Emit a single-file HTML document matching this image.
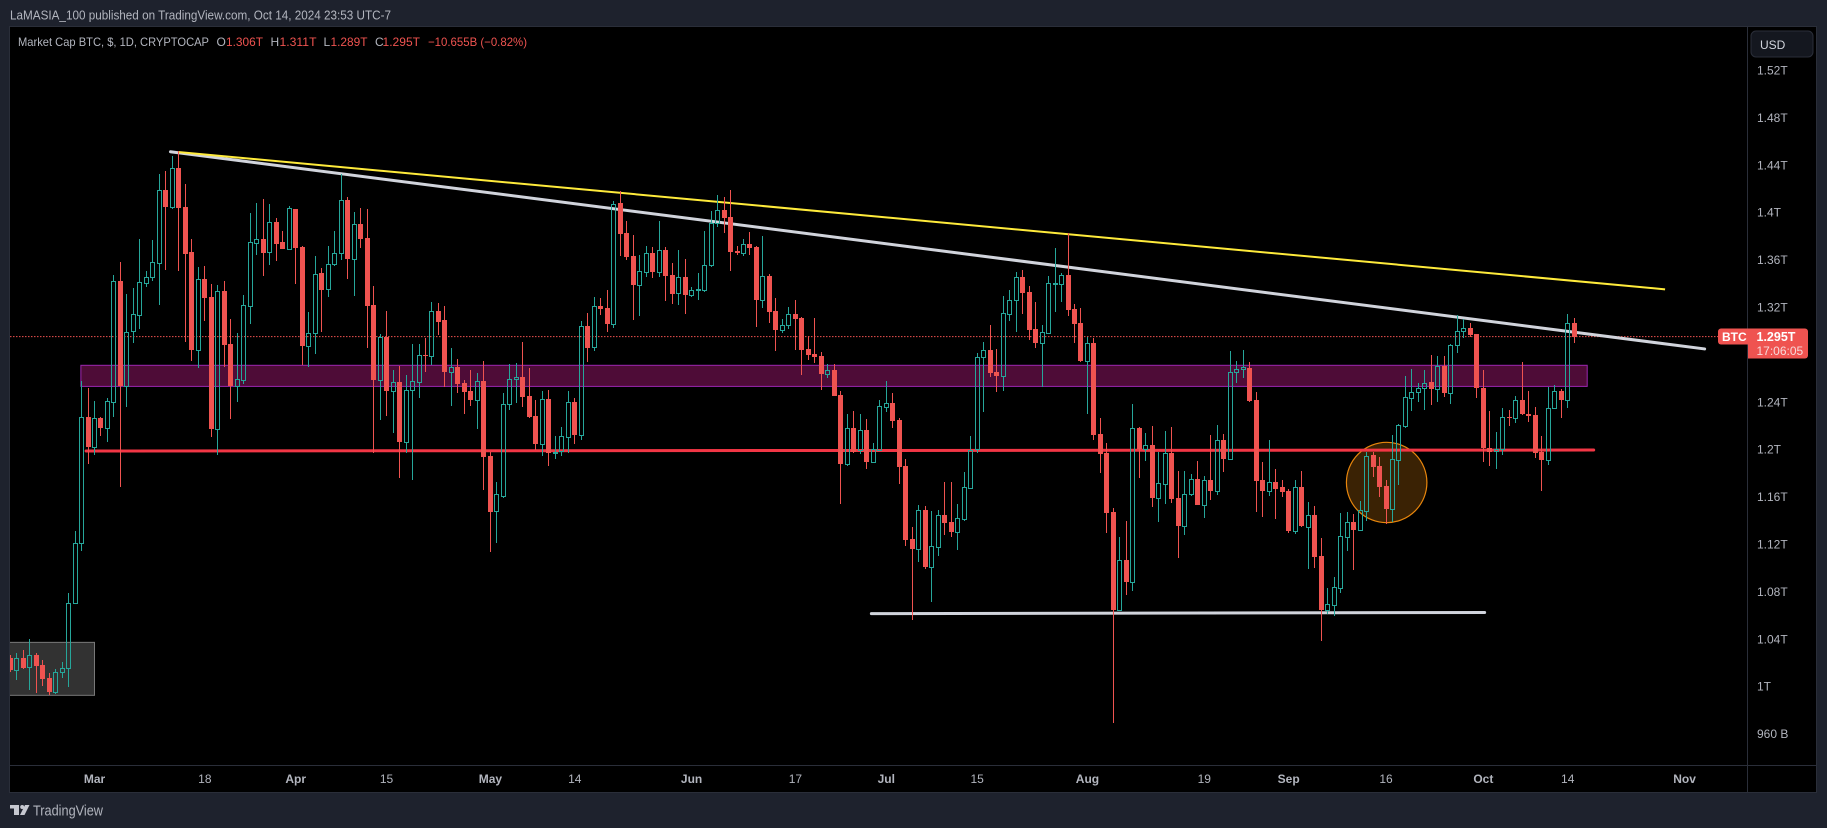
<!DOCTYPE html>
<html lang="en">
<head>
<meta charset="utf-8">
<title>Market Cap BTC chart</title>
<style>
html,body{margin:0;padding:0;background:#1e222d;width:1827px;height:828px;overflow:hidden}
svg{display:block}
text{font-family:"Liberation Sans",sans-serif}
</style>
</head>
<body>
<svg id="root" xmlns="http://www.w3.org/2000/svg" width="1827" height="828" viewBox="0 0 1827 828">
  <defs>
    <clipPath id="plot-clip"><rect x="10" y="27" width="1738" height="739"/></clipPath>
  </defs>
  <rect x="0" y="0" width="1827" height="828" fill="#1e222d"/>
  <text x="10" y="19.5" font-size="13" fill="#b2b5be" textLength="381" lengthAdjust="spacingAndGlyphs">LaMASIA_100 published on TradingView.com, Oct 14, 2024 23:53 UTC-7</text>

  <rect x="9.5" y="26.5" width="1807" height="766" fill="#000" stroke="#2a2e39"/>
  <line x1="1747.5" y1="27" x2="1747.5" y2="792" stroke="#2a2e39"/>
  <line x1="10" y1="765.5" x2="1816" y2="765.5" stroke="#2a2e39"/>

  <g id="drawings" clip-path="url(#plot-clip)"></g>
  <g id="candles" clip-path="url(#plot-clip)"></g>
  <g id="y-axis"></g>
  <g id="x-axis"></g>

  <g font-size="12">
    <text x="18" y="46" fill="#b2b5be" textLength="191" lengthAdjust="spacingAndGlyphs">Market Cap BTC, $, 1D, CRYPTOCAP</text>
    <text x="216.5" y="46" fill="#b2b5be">O</text>
    <text x="226" y="46" fill="#ef5350" textLength="37" lengthAdjust="spacingAndGlyphs">1.306T</text>
    <text x="270.5" y="46" fill="#b2b5be">H</text>
    <text x="279.5" y="46" fill="#ef5350" textLength="37" lengthAdjust="spacingAndGlyphs">1.311T</text>
    <text x="323.5" y="46" fill="#b2b5be">L</text>
    <text x="330.5" y="46" fill="#ef5350" textLength="37" lengthAdjust="spacingAndGlyphs">1.289T</text>
    <text x="375" y="46" fill="#b2b5be">C</text>
    <text x="382.5" y="46" fill="#ef5350" textLength="37.5" lengthAdjust="spacingAndGlyphs">1.295T</text>
    <text x="428" y="46" fill="#ef5350" textLength="99" lengthAdjust="spacingAndGlyphs">−10.655B (−0.82%)</text>
  </g>

  <g>
    <rect x="1751" y="31" width="62" height="26" rx="5" fill="#14171f" stroke="#2a2e39"/>
    <text x="1760" y="49" font-size="12" fill="#d1d4dc">USD</text>
  </g>

  <g>
    <path d="M1721 328.5H1748V344.5H1721a3 3 0 0 1-3-3V331.500a3 3 0 0 1 3-3Z" fill="#ef5350"/>
    <text x="1722" y="341" font-size="12" font-weight="700" fill="#fff">BTC</text>
    <path d="M1748 328.500H1805a3 3 0 0 1 3 3V355.500a3 3 0 0 1-3 3H1748Z" fill="#ef5350"/>
    <text x="1756.500" y="341" font-size="12.500" font-weight="700" fill="#fff">1.295T</text>
    <text x="1756.500" y="355" font-size="12" fill="#f6dada">17:06:05</text>
  </g>

  <g>
    <g fill="#c6c8d0">
      <rect x="10" y="805" width="9" height="3.500"/>
      <rect x="14" y="805" width="5" height="10"/>
      <circle cx="22.200" cy="807" r="2"/>
      <polygon points="25,805 29.500,805 24.500,815 20,815"/>
    </g>
    <text x="33" y="815.500" font-size="15" fill="#b2b5be" textLength="70" lengthAdjust="spacingAndGlyphs">TradingView</text>
  </g>
</svg>

<script>
// Daily bars, values in billions of USD. First bar is 13 days before the "Mar" tick.
const firstBarDay = -13;
const opens = [
1023.8,1013.7,1023.8,1016.5,1026.3,1017.9,1006.9,995.4,1012.3,1015.1,
1069.9,1120.6,1226.9,1202.1,1226,1218.2,1240.1,1341.7,1253.3,1299.8,
1313.3,1340.5,1345.6,1357.4,1418.7,1404.7,1437.3,1404.4,1366.4,1284,
1343.6,1328.4,1217.3,1333.5,1288.8,1253.3,1258.4,1321.1,1374.3,1377.4,
1366.1,1391.7,1374.6,1369.2,1402.4,1370.4,1287.4,1297.8,1348.7,1334.9,
1356,1365.3,1410.3,1360.7,1390,1378.2,1321.6,1258.6,1294.6,1249.3,
1256.7,1206.3,1249.7,1257,1279.2,1279,1316.6,1309,1265.4,1269.4,
1255.9,1248.8,1241.8,1257.3,1194.3,1148.1,1160.8,1238.4,1259,1260.6,
1244.6,1227.7,1204.7,1242.1,1197.5,1198.2,1210.6,1239.5,1212.2,1303.7,
1285.9,1320.8,1319.1,1306,1407.8,1382.5,1363.1,1338.6,1349.6,1365.6,
1349.6,1368.1,1347,1331.8,1345.3,1330.2,1334.6,1334.7,1355.8,1390.6,
1401.9,1396,1367.3,1365.6,1373.2,1370.7,1325.9,1346.2,1316.7,1300.9,
1304.8,1314.1,1310.7,1284.6,1280.4,1278.7,1263.8,1266.9,1245.8,1187.5,
1217.6,1199.3,1216,1189.2,1199.6,1235.6,1238.7,1224.7,1185.8,1124.2,
1115.7,1148.6,1100.5,1117.7,1144.4,1138.5,1130.4,1141.3,1167.5,1200,
1277.5,1283.5,1265.2,1262,1314.4,1325.7,1345.3,1332.7,1301.5,1289.9,
1298.4,1339.8,1339.7,1347,1318.3,1306.5,1274.7,1289.6,1212.9,1196.8,
1147,1064.3,1106.5,1088.2,1217.6,1200.4,1203.2,1158.8,1170.9,1196.8,
1158.8,1135.1,1162.2,1174.8,1152.9,1174,1164.7,1207.7,1192,1264.9,
1267.4,1268.3,1241.3,1174,1165,1172.3,1168.1,1164.7,1130.9,1168,
1134.6,1144.4,1109.8,1064.3,1068.8,1083.1,1126.1,1138.5,1132,1148.1,
1195.1,1185.8,1169,1149.8,1190.9,1219.9,1243.5,1248.6,1251.4,1256.4,
1251.1,1270.2,1247.7,1287.7,1300,1302,1297.2,1251.4,1201.3,1198.2,
1200.2,1227.2,1226.3,1241.3,1229.7,1228.9,1197.9,1190.9,1234.8,1248.8,
1241.8,1306.2
];
const highs = [
1026,1027.7,1030.6,1039.6,1027.7,1022.1,1010.9,1014.2,1020.1,1078.4,
1130.9,1257.5,1251.6,1240.7,1227.5,1242.9,1347,1358,1331,1335.8,
1377.4,1350.4,1376.5,1432.2,1434.8,1447.4,1451.7,1423.8,1377.4,1353.8,
1354.6,1339.1,1338.6,1341.9,1309.9,1298,1330.1,1399,1407.5,1410.9,
1406.6,1394.8,1384.1,1405.2,1403,1371.5,1315.5,1363,1352.9,1371.5,
1384.1,1432.2,1413.1,1400.1,1403.5,1402.4,1337.7,1297.2,1316.6,1266.8,
1270.5,1262.6,1288.8,1288.8,1293.8,1324.2,1323.1,1320.8,1285.4,1276.1,
1258.4,1266.8,1264,1274.4,1197.9,1172.3,1247.4,1271.6,1272.7,1290.5,
1268.5,1241.5,1248.8,1249.9,1211.1,1218.7,1248.8,1243.2,1307.9,1314.6,
1328.4,1327.5,1334.3,1409.5,1417.9,1392.6,1380.8,1363.9,1371.5,1370.7,
1392.6,1370.7,1357.2,1368.1,1360.5,1336.6,1348.7,1384.2,1400.8,1414.6,
1412.9,1418.8,1371.5,1377.4,1383.3,1371.5,1380,1347.9,1327.6,1309.9,
1320,1325.9,1311.6,1295.6,1310.7,1282,1271.9,1271.9,1249.1,1229.7,
1232.3,1229.7,1225.5,1205.2,1241.5,1257.6,1247.2,1226.3,1191.7,1134.3,
1152.9,1152,1147.8,1148.6,1172.3,1172.3,1153.7,1180.7,1211.1,1281.2,
1290.2,1304.8,1284.6,1329,1334.4,1349.6,1351.3,1337.7,1324.2,1304.8,
1346.2,1369.5,1348.7,1382.2,1322.6,1319.2,1295,1293.9,1226.3,1205.2,
1150.3,1125.9,1139.4,1238.2,1218.7,1213.6,1219.5,1197.6,1215.3,1218.7,
1181.6,1181.6,1178.7,1190,1177.3,1212,1220.4,1212.8,1282.9,1274.4,
1283.7,1273.6,1248,1189.2,1207.8,1183.3,1174,1166.4,1174,1181.6,
1155.4,1152,1125,1082.8,1092.1,1146.1,1147,1145.3,1156.2,1197.9,
1197.7,1193.7,1174,1211.7,1221.3,1261.8,1267.4,1255.6,1267,1279.5,
1278.7,1279,1289,1313.3,1309.6,1306.8,1297.3,1266.8,1232.2,1214.5,
1234.8,1233.1,1244.9,1273.6,1249.1,1235.9,1211.2,1252.8,1253.9,1250.8,
1314.1,1310.7
];
const lows = [
1012,1005.2,1014.2,996.8,994.5,1000.2,992.6,993.4,1007.2,999.6,
1069.9,1114.1,1187.5,1195.1,1211.1,1206.1,1227.5,1168.1,1235.9,1289.9,
1301.4,1337.2,1341.9,1321.7,1351.2,1402.7,1350.7,1290.8,1274.7,1268.8,
1308.2,1210.6,1195.4,1269.6,1225.5,1240.1,1255,1305.7,1363.9,1346.4,
1355.5,1358.8,1369.2,1369,1339.4,1271.1,1269.6,1280.3,1298.9,1328.4,
1355,1359.7,1343.6,1329.2,1369.7,1285.3,1197,1224.6,1228,1213.6,
1176,1197.1,1174,1243.5,1265.1,1270.8,1296.4,1252.8,1236.4,1247.4,
1229.7,1236.4,1217,1165.6,1113.5,1121.1,1158.8,1233.1,1239.3,1235.9,
1226.3,1199.3,1194.5,1186.1,1192,1194.2,1197.1,1204.4,1207.8,1273.6,
1282.8,1313.2,1298.8,1302.3,1363.1,1359.7,1309.1,1312.4,1345.6,1344.5,
1345.3,1325.1,1322.6,1321.7,1314.1,1328.5,1326,1332.7,1354,1387.5,
1382.5,1350.4,1363.9,1363.1,1363.9,1303.1,1319.2,1306.5,1282.9,1298.1,
1301.5,1283.7,1262.6,1275.3,1272.8,1250,1260.1,1244.9,1153.8,1186,
1196.5,1195.7,1183.3,1189,1199,1231.4,1217.9,1170.6,1118.3,1055.8,
1104.8,1098.9,1071,1109.8,1127.6,1125.9,1114.9,1139.4,1166,1197.1,
1231.7,1261.2,1248.3,1249.1,1308.2,1298.9,1314.1,1292.2,1285.4,1252.8,
1297.8,1315.8,1324.2,1312.4,1289.6,1273.6,1229.7,1207.8,1179.6,1129.5,
969,1064,1076.9,1080.3,1175.7,1190,1151.2,1138.5,1153.7,1154.6,
1108.1,1127.5,1160.5,1152.9,1141.9,1157.1,1161.3,1180.7,1191,1256.2,
1260.1,1240,1147,1142.8,1160.5,1141.1,1159.7,1129.2,1128.4,1134.3,
1098.9,1099.7,1038.1,1060.9,1059.5,1078.6,1114,1098,1131.8,1139.2,
1176.8,1160,1136.9,1138.9,1169.8,1217.6,1232.2,1240.1,1233.1,1237.3,
1239.8,1244.3,1238.4,1281.2,1293.6,1294.4,1243.2,1189.5,1185.8,1183.3,
1195.1,1219.6,1221.8,1228.9,1223,1192.3,1164.7,1187,1234.5,1226.3,
1234.8,1289.9
];
const closes = [
1013.7,1023.5,1015.1,1026,1017,1006.1,995.1,1011.7,1015.1,1069.9,
1120.6,1226.9,1202.1,1226,1218.2,1240.4,1341.7,1253.3,1299.2,1313.8,
1340.8,1345,1357.7,1418.5,1404.4,1437,1403.8,1364.7,1283.7,1343.4,
1327.9,1217.3,1333.2,1287.9,1253.3,1259,1321.4,1374.6,1377.1,1365.9,
1391.5,1373.5,1369.2,1403.3,1370.1,1287.4,1297.8,1347.6,1334.6,1356,
1365.3,1410,1360.8,1389.7,1377.3,1320.8,1258.3,1294.3,1249,1256.4,
1206.3,1249.7,1257.2,1279.2,1279,1316.3,1307.3,1265.1,1269.1,1255.3,
1248.3,1241.5,1257.3,1193.7,1147,1161.9,1237.9,1259,1260.6,1244,
1227.4,1204.7,1242.1,1197.1,1197.9,1210.8,1239.5,1212.2,1303.7,1285.7,
1320.5,1318.3,1305.9,1406.7,1381.6,1362.2,1338.6,1350.1,1365.3,1349.6,
1367.8,1346.2,1331,1345.1,1330.2,1334.1,1335,1355.2,1390.6,1401.6,
1395.1,1366.4,1365.6,1372.9,1369.8,1325.9,1345.9,1315.8,1300.6,1304.6,
1313.8,1309.9,1283.7,1279.5,1277.8,1263.5,1266.6,1244.9,1187.5,1217.6,
1198,1216,1189.2,1199.9,1236.2,1238.7,1223.8,1184.9,1123.3,1115.7,
1148.6,1100.5,1118,1144.1,1137.7,1130.1,1141.6,1167.8,1199.3,1277.5,
1283.5,1264.3,1261.8,1314.7,1325.7,1345.1,1331.8,1300.6,1289.6,1298.6,
1340,1340,1346.8,1317.5,1305.7,1274.5,1289.4,1212,1196,1146.4,
1064.3,1106.2,1087.9,1217.6,1199.8,1203.2,1158.8,1171.2,1196.5,1157.9,
1135.1,1161.9,1174.5,1152.9,1173.7,1164.7,1207.4,1191.7,1264.9,1267.4,
1269.1,1241,1173.5,1165,1172,1166.7,1163.9,1130.9,1167.8,1135.1,
1144.1,1109,1064.3,1069,1083.4,1126.4,1138.2,1131.8,1148.4,1194.6,
1185.3,1168.4,1149.6,1191.5,1220.2,1243.8,1248.6,1251.4,1256.2,1251.1,
1270.2,1247.7,1287.7,1300,1302,1296.7,1251.4,1201,1197.9,1199.9,
1226.9,1226.3,1241.3,1229.7,1228,1197.1,1190.9,1234.5,1248.8,1241.5,
1306.2,1295
];

// Price axis ticks (billions) and their printed labels.
const priceTicks = [1520,1480,1440,1400,1360,1320,1240,1200,1160,1120,1080,1040,1000,960];
const priceTickLabels = ["1.52T","1.48T","1.44T","1.4T","1.36T","1.32T","1.24T","1.2T","1.16T","1.12T","1.08T","1.04T","1T","960 B"];

// Time axis ticks: days since the "Mar" tick, and their labels.
const timeTicks = [0,17,31,45,61,74,92,108,122,136,153,171,184,199,214,227,245];
const timeTickLabels = ["Mar","18","Apr","15","May","14","Jun","17","Jul","15","Aug","19","Sep","16","Oct","14","Nov"];

const lastPrice = 1295;

// Annotation anchors in chart units: [day, price in billions].
const whiteTrend = [[11.7,1451],[248.1,1284.6]];
const yellowTrend = [[12.87,1450.8],[242,1334.9]];
const resistanceLine = [[-1.3,1198.5],[231,1199.3]];
const supportLine = [[119.7,1061.2],[214.2,1062.2]];
const purpleZone = [[-2.1,1270.8],[230,1253]];
const greyRange = [[-14,1037],[0,992.3]];
const orangeCircle = [[192.9,1205.8],[205.3,1138]];

const NS = 'http://www.w3.org/2000/svg';
const xOf = function (day) { return 94.5 + 6.49 * day; };
const yOf = function (price) { return 70 + (1520 - price) * 1.185; };

const drawings = document.getElementById('drawings');
const candles = document.getElementById('candles');
const yAxis = document.getElementById('y-axis');
const xAxis = document.getElementById('x-axis');

// Price line
const priceLine = document.createElementNS(NS, 'line');


priceLine.setAttribute('x1', 10);
priceLine.setAttribute('x2', 1748);
priceLine.setAttribute('y1', yOf(lastPrice));
priceLine.setAttribute('y2', yOf(lastPrice));
priceLine.setAttribute('stroke', '#ef5350');
priceLine.setAttribute('stroke-dasharray', '1.500 1.500');
drawings.appendChild(priceLine);

// Grey range box
const greyBox = document.createElementNS(NS, 'rect');


greyBox.setAttribute('x', xOf(greyRange[0][0]));
greyBox.setAttribute('y', yOf(greyRange[0][1]));
greyBox.setAttribute('width', xOf(greyRange[1][0]) - xOf(greyRange[0][0]));
greyBox.setAttribute('height', yOf(greyRange[1][1]) - yOf(greyRange[0][1]));
greyBox.setAttribute('fill', '#323232');
greyBox.setAttribute('stroke', '#787878');
drawings.appendChild(greyBox);

// Purple zone
const zone = document.createElementNS(NS, 'rect');


zone.setAttribute('x', xOf(purpleZone[0][0]));
zone.setAttribute('y', yOf(purpleZone[0][1]));
zone.setAttribute('width', xOf(purpleZone[1][0]) - xOf(purpleZone[0][0]));
zone.setAttribute('height', yOf(purpleZone[1][1]) - yOf(purpleZone[0][1]));
zone.setAttribute('fill', '#4e0c37');
zone.setAttribute('stroke', '#9c27b0');
drawings.appendChild(zone);

// Orange circle
const circle = document.createElementNS(NS, 'ellipse');


circle.setAttribute('cx', (xOf(orangeCircle[0][0]) + xOf(orangeCircle[1][0])) / 2);
circle.setAttribute('cy', (yOf(orangeCircle[0][1]) + yOf(orangeCircle[1][1])) / 2);
circle.setAttribute('rx', (xOf(orangeCircle[1][0]) - xOf(orangeCircle[0][0])) / 2);
circle.setAttribute('ry', (yOf(orangeCircle[1][1]) - yOf(orangeCircle[0][1])) / 2);
circle.setAttribute('fill', '#3a2204');
circle.setAttribute('stroke', '#e8860c');
circle.setAttribute('stroke-width', '1.200');
drawings.appendChild(circle);

// Horizontal levels
const redLevel = document.createElementNS(NS, 'line');


redLevel.setAttribute('x1', xOf(resistanceLine[0][0]));
redLevel.setAttribute('y1', yOf(resistanceLine[0][1]));
redLevel.setAttribute('x2', xOf(resistanceLine[1][0]));
redLevel.setAttribute('y2', yOf(resistanceLine[1][1]));
redLevel.setAttribute('stroke', '#f23645');
redLevel.setAttribute('stroke-width', '3');
redLevel.setAttribute('stroke-linecap', 'round');
drawings.appendChild(redLevel);

const whiteLevel = document.createElementNS(NS, 'line');


whiteLevel.setAttribute('x1', xOf(supportLine[0][0]));
whiteLevel.setAttribute('y1', yOf(supportLine[0][1]));
whiteLevel.setAttribute('x2', xOf(supportLine[1][0]));
whiteLevel.setAttribute('y2', yOf(supportLine[1][1]));
whiteLevel.setAttribute('stroke', '#d1d4dc');
whiteLevel.setAttribute('stroke-width', '3');
whiteLevel.setAttribute('stroke-linecap', 'round');
drawings.appendChild(whiteLevel);

// Trendlines
const whiteLine = document.createElementNS(NS, 'line');


whiteLine.setAttribute('x1', xOf(whiteTrend[0][0]));
whiteLine.setAttribute('y1', yOf(whiteTrend[0][1]));
whiteLine.setAttribute('x2', xOf(whiteTrend[1][0]));
whiteLine.setAttribute('y2', yOf(whiteTrend[1][1]));
whiteLine.setAttribute('stroke', '#d1d4dc');
whiteLine.setAttribute('stroke-width', '3');
whiteLine.setAttribute('stroke-linecap', 'round');
drawings.appendChild(whiteLine);

const yellowLine = document.createElementNS(NS, 'line');


yellowLine.setAttribute('x1', xOf(yellowTrend[0][0]));
yellowLine.setAttribute('y1', yOf(yellowTrend[0][1]));
yellowLine.setAttribute('x2', xOf(yellowTrend[1][0]));
yellowLine.setAttribute('y2', yOf(yellowTrend[1][1]));
yellowLine.setAttribute('stroke', '#ffeb3b');
yellowLine.setAttribute('stroke-width', '2');
drawings.appendChild(yellowLine);

// Candles
const UP = '#26a69a';
const DOWN = '#ef5350';
for (let i = 0; i < opens.length; i++) {
  const cx = xOf(firstBarDay + i);
  const left = Math.round(cx - 2.5);
  const isUp = closes[i] >= opens[i];
  const color = isUp ? UP : DOWN;
  const top = Math.round(yOf(Math.max(opens[i], closes[i])));
  const bottom = Math.round(yOf(Math.min(opens[i], closes[i])));
  const hi = Math.round(yOf(highs[i]));
  const lo = Math.round(yOf(lows[i]));

  const g = document.createElementNS(NS, 'g');
  
  

  const wickTop = document.createElementNS(NS, 'rect');
  
  
  wickTop.setAttribute('x', left + 2);
  wickTop.setAttribute('y', hi);
  wickTop.setAttribute('width', 1);
  wickTop.setAttribute('height', Math.max(0, top - hi));
  wickTop.setAttribute('fill', color);
  g.appendChild(wickTop);

  const wickBottom = document.createElementNS(NS, 'rect');
  
  
  wickBottom.setAttribute('x', left + 2);
  wickBottom.setAttribute('y', bottom);
  wickBottom.setAttribute('width', 1);
  wickBottom.setAttribute('height', Math.max(0, lo - bottom));
  wickBottom.setAttribute('fill', color);
  g.appendChild(wickBottom);

  const body = document.createElementNS(NS, 'rect');
  
  
  if (isUp) {
    body.setAttribute('x', left + 0.5);
    body.setAttribute('y', top + 0.5);
    body.setAttribute('width', 4);
    body.setAttribute('height', Math.max(1, bottom - top));
    body.setAttribute('fill', 'none');
    body.setAttribute('stroke', color);
    body.setAttribute('stroke-width', 1);
  } else {
    body.setAttribute('x', left);
    body.setAttribute('y', top);
    body.setAttribute('width', 5);
    body.setAttribute('height', Math.max(1, bottom - top));
    body.setAttribute('fill', color);
  }
  g.appendChild(body);
  candles.appendChild(g);
}

// Price axis labels
for (let i = 0; i < priceTicks.length; i++) {
  const label = document.createElementNS(NS, 'text');
  
  
  label.setAttribute('x', 1757);
  label.setAttribute('y', yOf(priceTicks[i]) + 4.5);
  label.setAttribute('font-size', 12);
  label.setAttribute('fill', '#b2b5be');
  label.textContent = priceTickLabels[i];
  yAxis.appendChild(label);
}

// Time axis labels
for (let i = 0; i < timeTicks.length; i++) {
  const label = document.createElementNS(NS, 'text');
  
  
  label.setAttribute('x', xOf(timeTicks[i]));
  label.setAttribute('y', 783);
  label.setAttribute('font-size', 12);
  label.setAttribute('text-anchor', 'middle');
  label.setAttribute('fill', '#b2b5be');
  if (isNaN(parseInt(timeTickLabels[i], 10))) {
    label.setAttribute('font-weight', '700');
  }
  label.textContent = timeTickLabels[i];
  xAxis.appendChild(label);
}
</script>
</body>
</html>
